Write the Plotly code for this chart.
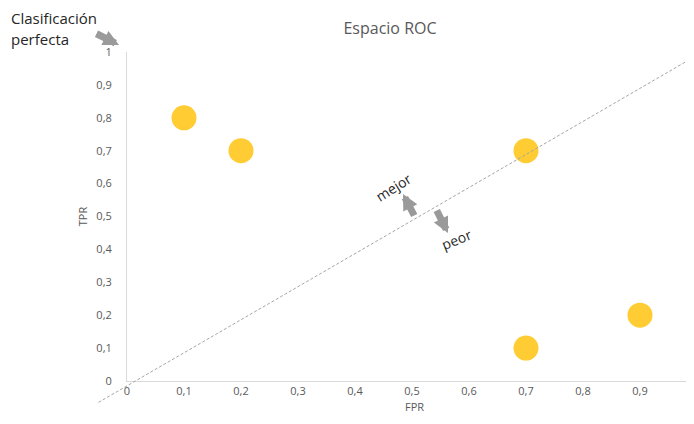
import plotly.graph_objects as go

# ─── Datos ───────────────────────────────────────────────────────────────────
FPR = [0.1, 0.2, 0.7, 0.7, 0.9]
TPR = [0.8, 0.7, 0.7, 0.1, 0.2]
TICKS = [0, 0.1, 0.2, 0.3, 0.4, 0.5, 0.6, 0.7, 0.8, 0.9, 1]
TICK_TEXT = ["0", "0,1", "0,2", "0,3", "0,4", "0,5", "0,6", "0,7", "0,8", "0,9", "1"]

GRIS_TEXTO = "#595959"
GRIS_EJE = "#d9d9d9"
GRIS_FLECHA = "#9a9a9a"
AMARILLO = "#ffcc33"
FUENTE = "Open Sans, Noto Sans, sans-serif"

# la página deja 8 px de margen; las posiciones de la referencia se corrigen
OFF = 8
W, H = 694, 424
ML, MR, MT, MB = 127 - OFF, 0, 52 - OFF, 424 - 381 + OFF
X_MAX = (W - ML - MR) / 570  # la escala continúa un poco fuera de la ventana

fig = go.Figure(
    go.Scatter(
        x=FPR,
        y=TPR,
        mode="markers",
        marker=dict(color=AMARILLO, size=25, line=dict(width=0)),
        cliponaxis=False,
        showlegend=False,
    )
)


def _px(x):
    return x / X_MAX


def _papel(px, py):
    px, py = px - OFF, py - OFF
    return (px - ML) / (W - ML - MR), 1 - (py - MT) / (H - MT - MB)


# diagonal aleatoria (en coordenadas de papel para que sobresalga del área)
fig.add_shape(
    type="line",
    xref="paper",
    yref="paper",
    x0=_px(-0.05),
    y0=-0.065,
    x1=_px(1.0),
    y1=0.99,
    line=dict(color="#a6a6a6", width=1, dash="3px,2px"),
)

flechas = [
    # (x_cola, y_cola, x_punta, y_punta) en píxeles de la referencia
    (95, 33, 119, 45),
    (415, 217, 403, 194),
    (436, 209, 448, 233),
]
anotaciones = []
for xt, yt, xh, yh in flechas:
    xp, yp = _papel(xh, yh)
    anotaciones.append(
        dict(
            x=xp,
            y=yp,
            xref="paper",
            yref="paper",
            ax=xt - xh,
            ay=yt - yh,
            text="",
            showarrow=True,
            arrowhead=2,
            arrowsize=0.45,
            arrowwidth=7,
            arrowcolor=GRIS_FLECHA,
        )
    )


def _tx(px, py, texto, ang=0, size=14, color="#262626", xa="center", ya="middle"):
    xp, yp = _papel(px, py)
    return dict(
        x=xp,
        y=yp,
        xref="paper",
        yref="paper",
        xanchor=xa,
        yanchor=ya,
        text=texto,
        showarrow=False,
        textangle=ang,
        borderpad=0,
        font=dict(family=FUENTE, size=size, color=color),
    )


anotaciones += [
    _tx(10, 18, "Clasificación", size=15, xa="left"),
    _tx(10, 39, "perfecta", size=15, xa="left"),
    _tx(393, 187, "mejor", ang=-32, size=14),
    _tx(456, 239, "peor", ang=-22, size=14),
]

fig.update_layout(
    width=W,
    height=H,
    margin=dict(l=ML, r=MR, t=MT, b=MB),
    paper_bgcolor="white",
    plot_bgcolor="white",
    font=dict(family=FUENTE, size=11, color=GRIS_TEXTO),
    title=dict(
        text="Espacio ROC",
        x=(390 - OFF) / W,
        xanchor="center",
        y=1 - (28 - OFF) / H,
        yanchor="middle",
        font=dict(size=16, color=GRIS_TEXTO),
    ),
    annotations=anotaciones,
)
fig.update_xaxes(
    range=[0, X_MAX],
    tickvals=TICKS,
    ticktext=TICK_TEXT,
    showgrid=False,
    zeroline=False,
    showline=True,
    linecolor=GRIS_EJE,
    ticks="",
    automargin=False,
    tickfont=dict(size=11, color=GRIS_TEXTO),
    title=dict(text="FPR", font=dict(size=11, color=GRIS_TEXTO), standoff=6),
)
fig.update_yaxes(
    range=[0, 1],
    tickvals=TICKS,
    ticktext=TICK_TEXT,
    showgrid=False,
    zeroline=False,
    showline=True,
    linecolor=GRIS_EJE,
    ticks="",
    automargin=False,
    ticklabelstandoff=12,
    tickfont=dict(size=11, color=GRIS_TEXTO),
    title=dict(text="TPR", font=dict(size=11, color=GRIS_TEXTO), standoff=6),
)

fig.write_html("out.html")
